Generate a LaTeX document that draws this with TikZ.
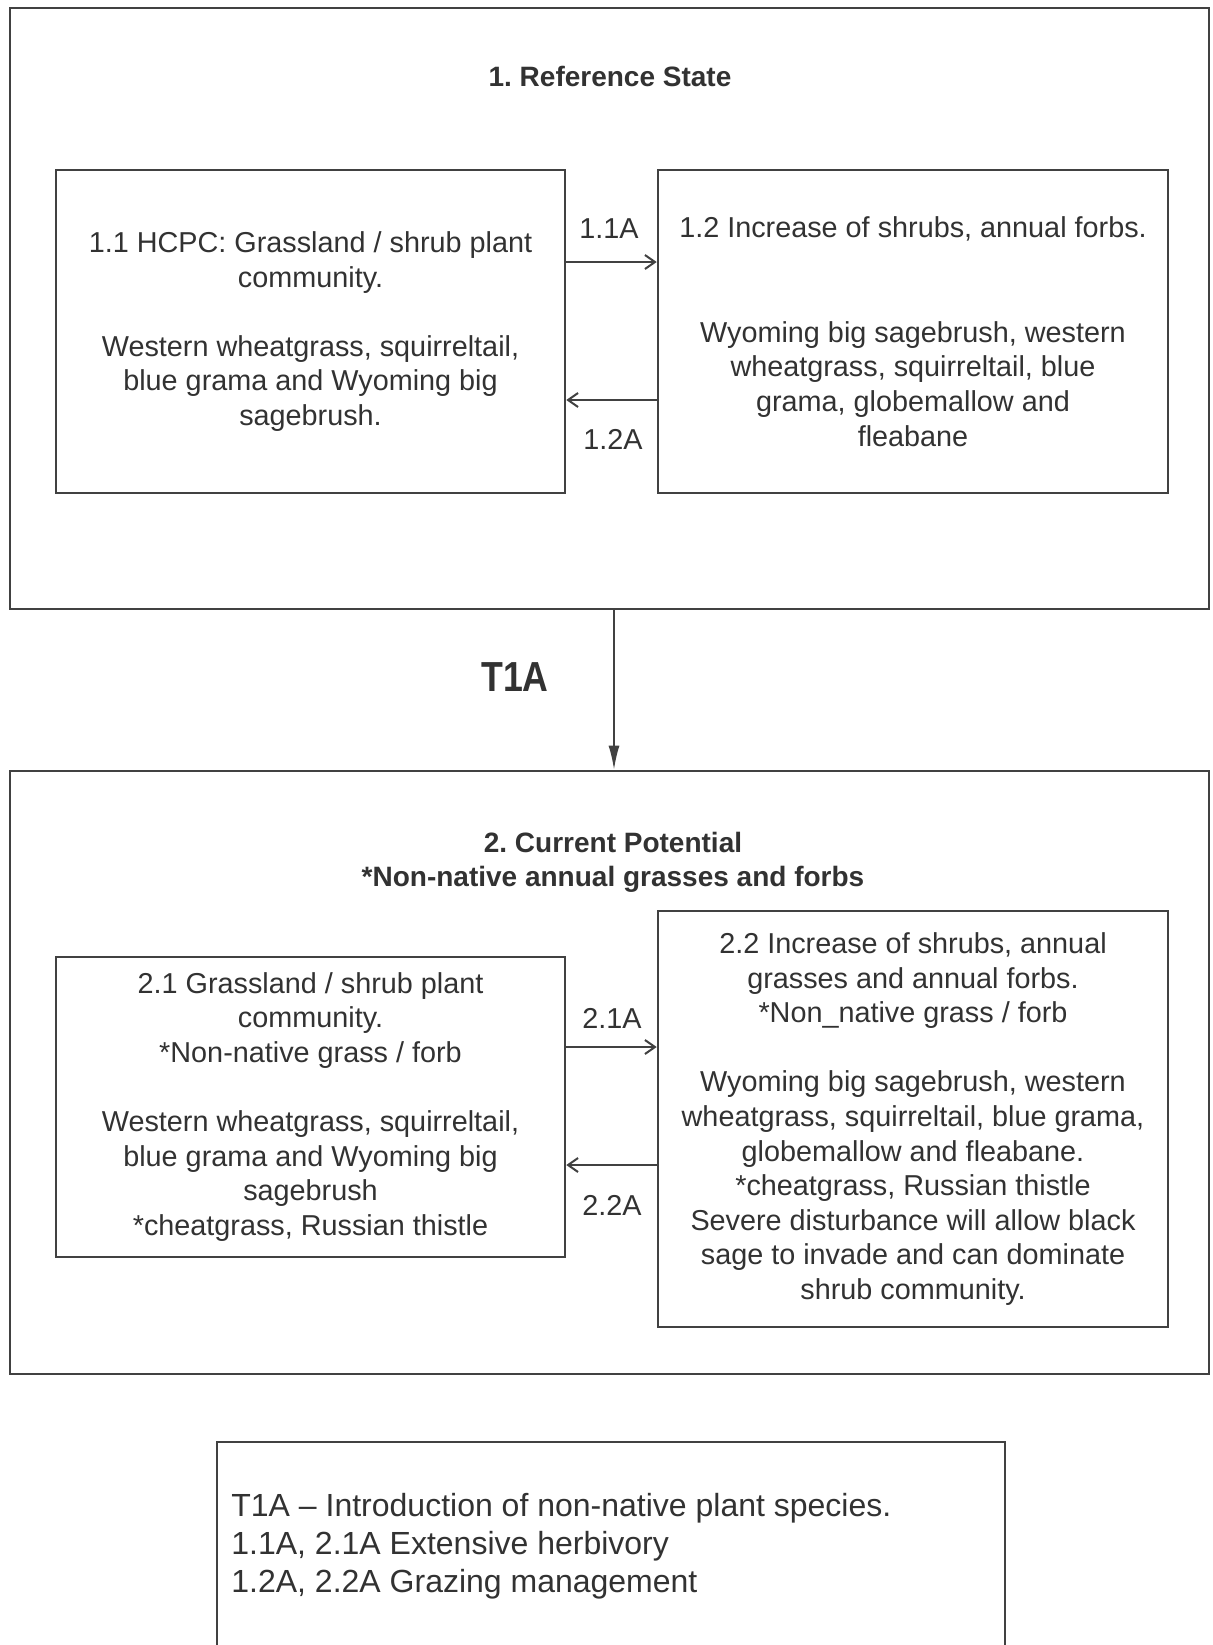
\documentclass[tikz,border=0pt]{standalone}
\usepackage{fontspec}
\setmainfont{Liberation Sans}
\usetikzlibrary{arrows.meta,positioning}
\definecolor{ink}{RGB}{50,50,50}
\definecolor{frame}{RGB}{65,65,65}
\frenchspacing

\begin{document}
\begin{tikzpicture}[x=0.5pt, y=-0.5pt,
  every node/.style={text=ink},
  statebox/.style={draw=frame, line width=1.4pt, minimum width=599.5pt, inner sep=0pt},
  phasebox/.style={draw=frame, line width=1.3pt, inner sep=0pt, align=center,
    font=\fontsize{14.4}{17.3}\selectfont},
  statetitle/.style={align=center, font=\bfseries\fontsize{14}{17}\selectfont},
  pathlabel/.style={font=\fontsize{14.4}{17.3}\selectfont},
  pathedge/.style={draw=frame, line width=1pt, -{Straight Barb[length=5pt,width=7pt]}},
  transedge/.style={draw=frame, line width=0.8pt, -{Latex[length=12pt,width=5.5pt]}}]

\useasboundingbox[fill=white] (0,0) rectangle (1212,1645);

\node[statebox, minimum height=300.5pt] (ref) at (609.5,308.5) {};
\node[statetitle] (reftitle) at (610,76) {1. Reference State};

\node[phasebox, minimum width=254.5pt, minimum height=161.5pt] (p11) at (310.5,331.5)
  {1.1 HCPC: Grassland / shrub plant\\ community.\\[17.3pt]
   Western wheatgrass, squirreltail,\\ blue grama and Wyoming big\\ sagebrush.};
\node[phasebox, minimum width=255pt, minimum height=161.5pt] (p12) at (913,331.5)
  {1.2 Increase of shrubs, annual forbs.\\[35pt]
   Wyoming big sagebrush, western\\ wheatgrass, squirreltail, blue\\ grama, globemallow and\\ fleabane};

\draw[pathedge] ([yshift=34.75pt]p11.east) -- ([yshift=34.75pt]p11.east -| p12.west);
\draw[pathedge] ([yshift=-34.25pt]p12.west) -- ([yshift=-34.25pt]p12.west -| p11.east);
\node[pathlabel] (l11) at (609,229) {1.1A};
\node[pathlabel] (l12) at (613,439) {1.2A};

\node[statebox, minimum height=301.5pt] (cur) at (609.5,1072.5) {};
\draw[transedge] ([xshift=2.25pt]ref.south) -- ([xshift=2.25pt]ref.south |- cur.north);
\node[font=\bfseries\fontsize{21}{25}\selectfont, xscale=0.85] (t1a) at (515,677) {T1A};

\node[statetitle] (curtitle) at (613,862)
  {2. Current Potential\\ *Non-native annual grasses and forbs};

\node[phasebox, minimum width=254.5pt, minimum height=150pt] (p21) at (310.5,1107)
  {2.1 Grassland / shrub plant\\ community.\\ *Non-native grass / forb\\[17.3pt]
   Western wheatgrass, squirreltail,\\ blue grama and Wyoming big\\ sagebrush\\
   *cheatgrass, Russian thistle};
\node[phasebox, minimum width=255pt, minimum height=208pt] (p22) at (913,1119)
  {2.2 Increase of shrubs, annual\\ grasses and annual forbs.\\ *Non\_native grass / forb\\[17.3pt]
   Wyoming big sagebrush, western\\ wheatgrass, squirreltail, blue grama,\\
   globemallow and fleabane.\\ *cheatgrass, Russian thistle\\
   Severe disturbance will allow black\\ sage to invade and can dominate\\ shrub community.};

\draw[pathedge] ([yshift=30pt]p21.east) -- ([yshift=30pt]p21.east -| p22.west);
\draw[pathedge] ([yshift=-29pt]p21.east -| p22.west) -- ([yshift=-29pt]p21.east);
\node[pathlabel] (l21) at (612,1018) {2.1A};
\node[pathlabel] (l22) at (612,1205) {2.2A};

\node[draw=frame, line width=1.3pt, minimum width=394pt, minimum height=119pt] (key) at (611,1561) {};
\node[anchor=west, align=left, inner sep=0pt, font=\fontsize{16}{18.9}\selectfont] (keytext) at (231,1546)
  {T1A -- Introduction of non-native plant species.\\ 1.1A, 2.1A Extensive herbivory\\
   1.2A, 2.2A Grazing management};

\end{tikzpicture}
\end{document}
